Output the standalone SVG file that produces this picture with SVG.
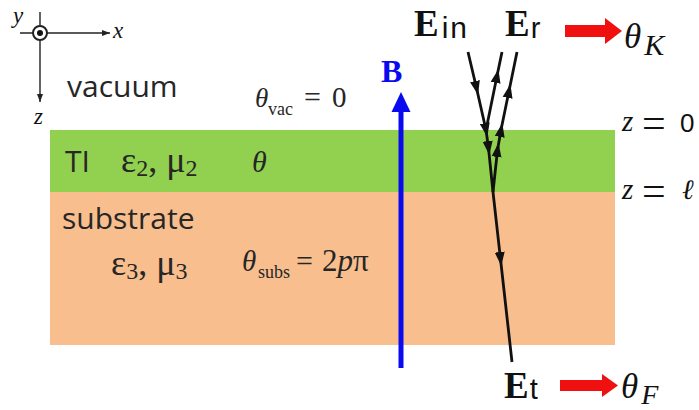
<svg xmlns="http://www.w3.org/2000/svg" width="699" height="410" viewBox="0 0 699 410">
<style>
.sans{font-family:"Open Sans","Noto Sans","Liberation Sans",sans-serif;fill:#262626}
.serif{font-family:"Liberation Serif","Times New Roman",serif;fill:#262626}
.math{font-family:"Liberation Serif","DejaVu Serif",serif;fill:#111}
.it{font-style:italic}
.sub{font-family:"Liberation Sans","DejaVu Sans",sans-serif;font-weight:normal}
.ray{stroke:#111;stroke-width:2.8;fill:none;marker-mid:url(#ah)}
.axis{stroke:#222;stroke-width:1.4;fill:none}
.red{fill:#f01010}
</style>
<defs>
<marker id="ah" viewBox="0 0 14 11" refX="7" refY="5.5" markerWidth="14" markerHeight="11" markerUnits="userSpaceOnUse" orient="auto">
<path d="M0,0.5 L14,5.5 L0,10.5 Z" fill="#111"/>
</marker>
<marker id="axh" viewBox="0 0 8 6" refX="8" refY="3" markerWidth="8" markerHeight="6" markerUnits="userSpaceOnUse" orient="auto">
<path d="M0,0 L8,3 L0,6 Z" fill="#222"/>
</marker>
</defs>
<rect width="699" height="410" fill="#fff"/>

<g id="layers">
<rect id="layer-ti" x="50" y="130" width="565" height="62" fill="#92d050"/>
<rect id="layer-substrate" x="50" y="192" width="565" height="153" fill="#f8be8e"/>
</g>

<g id="axes">
<line class="axis" x1="20" y1="33" x2="110" y2="33" marker-end="url(#axh)"/>
<line class="axis" x1="40" y1="12" x2="40" y2="102" marker-end="url(#axh)"/>
<circle cx="40" cy="33" r="7" fill="#fff" stroke="#222" stroke-width="2"/>
<circle cx="40" cy="33" r="3" fill="#111"/>
<text class="math it" x="113" y="38" font-size="23">x</text>
<text class="math it" x="13" y="23" font-size="23">y</text>
<text class="math it" x="34" y="124" font-size="23">z</text>
</g>

<g id="vacuum">
<text class="sans" x="67" y="97" font-size="30">vacuum</text>
<text class="serif it" x="255" y="107" font-size="27">θ</text>
<text class="serif" x="268" y="115" font-size="18">vac</text>
<text class="serif" x="304" y="107" font-size="30">=</text>
<text class="serif" x="332" y="107" font-size="29">0</text>
</g>

<g id="ti">
<text class="sans" x="65" y="172" font-size="30">TI</text>
<text class="serif" x="121" y="172" font-size="36">ε<tspan font-size="24" dy="4">2</tspan><tspan dy="-4">, μ</tspan><tspan font-size="24" dy="4">2</tspan></text>
<text class="serif it" x="252" y="172" font-size="30">θ</text>
</g>

<g id="substrate">
<text class="sans" x="62" y="229" font-size="30">substrate</text>
<text class="serif" x="111" y="275" font-size="36">ε<tspan font-size="24" dy="4">3</tspan><tspan dy="-4">, μ</tspan><tspan font-size="24" dy="4">3</tspan></text>
<text class="serif it" x="242" y="271" font-size="29">θ</text>
<text class="serif" x="258" y="278" font-size="18">subs</text>
<text class="serif" x="296" y="271" font-size="30">=</text>
<text class="serif" x="322" y="271" font-size="31">2<tspan font-style="italic">p</tspan>π</text>
</g>

<g id="interfaces">
<text class="math it" x="622" y="131" font-size="29">z</text>
<text class="math" x="642" y="137" font-size="42">=</text>
<text class="sub" x="680" y="132" font-size="26" fill="#111">0</text>
<text class="math it" x="622" y="199" font-size="29">z</text>
<text class="math" x="642" y="205" font-size="42">=</text>
<text class="math it" x="682" y="199" font-size="28">ℓ</text>
</g>

<g id="field-b">
<line x1="401" y1="368" x2="401" y2="108" stroke="#0a0af0" stroke-width="5"/>
<polygon points="401,92 391.5,112 410.5,112" fill="#0a0af0"/>
<text x="381" y="82" font-family="Liberation Serif, serif" font-weight="bold" font-size="32" fill="#0a0af0">B</text>
</g>

<g id="connectors">
<path class="ray" d="M468,52 L476.5,88 L486,130 L488.5,148 L493,192"/>
<path class="ray" d="M486,130 L497,76 L502,52"/>
<path class="ray" d="M493,192 L497.5,150 L501,130 L509,91 L517,52"/>
<path class="ray" d="M493,192 L500.5,259 L512,362"/>
</g>

<g id="e-in">
<text class="math" x="414" y="36" font-size="37" font-weight="bold">E<tspan class="sub" font-size="30" dx="3" dy="2" letter-spacing="2">in</tspan></text>
</g>
<g id="e-r">
<text class="math" x="505" y="36" font-size="37" font-weight="bold">E<tspan class="sub" font-size="29" dx="1" dy="2">r</tspan></text>
</g>
<g id="theta-k">
<rect class="red" x="565" y="25" width="43" height="12"/>
<polygon class="red" points="605,18 622,31 605,44"/>
<text class="math it" x="624" y="48" font-size="35">θ<tspan font-size="30" dx="3" dy="7">K</tspan></text>
</g>
<g id="e-t">
<text class="math" x="504" y="398" font-size="37" font-weight="bold">E<tspan class="sub" font-size="29" dx="1" dy="1">t</tspan></text>
</g>
<g id="theta-f">
<rect class="red" x="560" y="380" width="45" height="11"/>
<polygon class="red" points="602,374 618,385.5 602,397" />
<text class="math it" x="621" y="398" font-size="35">θ<tspan font-size="28" dx="3" dy="6">F</tspan></text>
</g>
</svg>
